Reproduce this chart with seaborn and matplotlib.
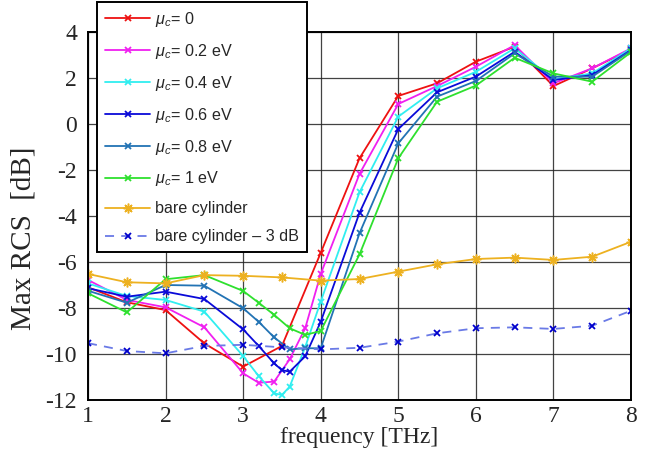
import matplotlib
matplotlib.use('Agg')
import matplotlib.pyplot as plt
import seaborn as sns
import pandas as pd

# Data
freq_coarse = [1, 1.5, 2, 2.5, 3, 3.5, 4, 4.5, 5, 5.5, 6, 6.5, 7, 7.5, 8]
freq_a = [1, 1.5, 2, 2.5, 3, 3.2, 3.4, 3.6, 3.8, 4, 4.5, 5, 5.5, 6, 6.5, 7, 7.5, 8]
freq_b = [1, 1.5, 2, 2.5, 3, 3.2, 3.4, 3.5, 3.6, 3.8, 4, 4.5, 5, 5.5, 6, 6.5, 7, 7.5, 8]

rcs_mu0 = [-7.1, -7.75, -8.09, -9.54, -10.55, -9.65, -5.6, -1.49, 1.22, 1.77, 2.71, 3.36, 1.65, 2.42, 3.25]
rcs_mu02 = [-6.78, -7.65, -7.97, -8.84, -10.84, -11.25, -11.2, -10.23, -8.88, -6.52,
            -2.17, 0.87, 1.65, 2.49, 3.43, 1.77, 2.42, 3.29]
rcs_mu04 = [-6.93, -7.48, -7.65, -8.16, -10.09, -10.96, -11.71, -11.78, -11.42, -9.7, -7.72,
            -2.97, 0.32, 1.55, 2.27, 3.29, 1.94, 2.2, 3.29]
rcs_mu06 = [-7.14, -7.51, -7.29, -7.61, -8.93, -9.65, -10.41, -10.7, -10.77, -10.1, -8.6,
            -3.86, -0.22, 1.38, 2.06, 3.14, 1.91, 2.13, 3.22]
rcs_mu08 = [-7.25, -7.77, -7.0, -7.03, -8.01, -8.6, -9.28, -9.8, -9.75, -9.75,
            -4.75, -0.84, 1.19, 1.87, 3.07, 2.06, 2.06, 3.19]
rcs_mu1 = [-7.36, -8.19, -6.75, -6.57, -7.26, -7.77, -8.3, -8.88, -9.17, -9.0,
           -5.67, -1.49, 0.97, 1.67, 2.88, 2.2, 1.84, 3.12]
rcs_bare = [-6.52, -6.88, -6.93, -6.57, -6.6, -6.67, -6.81, -6.74, -6.42, -6.1, -5.87, -5.81, -5.91, -5.77, -5.12]
rcs_bare_3db = [-9.53, -9.87, -9.97, -9.65, -9.6, -9.71, -9.8, -9.73, -9.46, -9.1, -8.88, -8.84, -8.91, -8.77, -8.12]

series = [
    (r'$\mu_c$= 0', freq_coarse, rcs_mu0, '#ee1111', 'x', '-', '#ee1111'),
    (r'$\mu_c$= 0.2 eV', freq_a, rcs_mu02, '#f020f0', 'x', '-', '#f020f0'),
    (r'$\mu_c$= 0.4 eV', freq_b, rcs_mu04, '#30eef0', 'x', '-', '#30eef0'),
    (r'$\mu_c$= 0.6 eV', freq_b, rcs_mu06, '#0a0ad8', 'x', '-', '#0a0ad8'),
    (r'$\mu_c$= 0.8 eV', freq_a, rcs_mu08, '#2273b4', 'x', '-', '#2273b4'),
    (r'$\mu_c$= 1 eV', freq_a, rcs_mu1, '#2ee02e', 'x', '-', '#2ee02e'),
    ('bare cylinder', freq_coarse, rcs_bare, '#edb120', (8, 2, 0), '-', '#edb120'),
    ('bare cylinder \u2013 3 dB', freq_coarse, rcs_bare_3db, '#6a7ae6', 'x', (0, (5, 4)), '#0000cc'),
]

sns.set_style('white')
plt.rcParams['font.family'] = ['Liberation Serif', 'DejaVu Serif']
plt.rcParams['mathtext.fontset'] = 'custom'
plt.rcParams['mathtext.rm'] = 'Liberation Sans'
plt.rcParams['mathtext.it'] = 'Liberation Sans:italic'
plt.rcParams['mathtext.bf'] = 'Liberation Sans:bold'

fig = plt.figure(figsize=(6.52, 4.62), dpi=100)
ax = fig.add_axes([88 / 652, 1 - 400 / 462, (631 - 88) / 652, (400 - 32) / 462])

for label, xs, ys, col, mk, ls, mcol in series:
    df = pd.DataFrame({'freq': xs, 'rcs': ys})
    sns.lineplot(data=df, x='freq', y='rcs', ax=ax, color=col, marker=mk,
                 linestyle=ls, linewidth=1.3, markersize=7 if mk != 'x' else 5,
                 markeredgecolor=mcol, markerfacecolor=mcol,
                 markeredgewidth=1.1 if mk != 'x' else 1.3,
                 sort=False, estimator=None, label=label)

ax.set_xlim(1, 8)
ax.set_ylim(-12, 4)
ax.set_xticks(range(1, 9))
ax.set_yticks(range(-12, 5, 2))
ax.set_yticklabels([str(v) for v in range(-12, 5, 2)])
ax.grid(True, color='#222222', linewidth=0.9, alpha=0.85)
ax.tick_params(axis='both', direction='in', length=0, labelsize=17)
ax.tick_params(axis='y', pad=8)
ax.tick_params(axis='x', pad=4)
for sp in ax.spines.values():
    sp.set_color('black')
    sp.set_linewidth(1.4)
ax.set_xlabel('frequency [THz]', fontsize=17, labelpad=0)
ax.set_ylabel('Max RCS  [dB]', fontsize=21)
ax.yaxis.set_label_coords(-0.094, 0.44)

handles, labels = ax.get_legend_handles_labels()
leg = ax.legend(handles, labels, loc='upper left',
                bbox_to_anchor=(97 / 652, 1 - 2 / 462), bbox_transform=fig.transFigure,
                prop={'family': 'Liberation Sans', 'size': 11.6},
                frameon=True, fancybox=False, framealpha=1, edgecolor='black',
                handlelength=2.8, handletextpad=0.3, labelspacing=0.8,
                borderpad=0.5, borderaxespad=0)
leg.get_frame().set_linewidth(1.4)
leg.set_zorder(10)

fig.savefig('out.png', dpi=100)
